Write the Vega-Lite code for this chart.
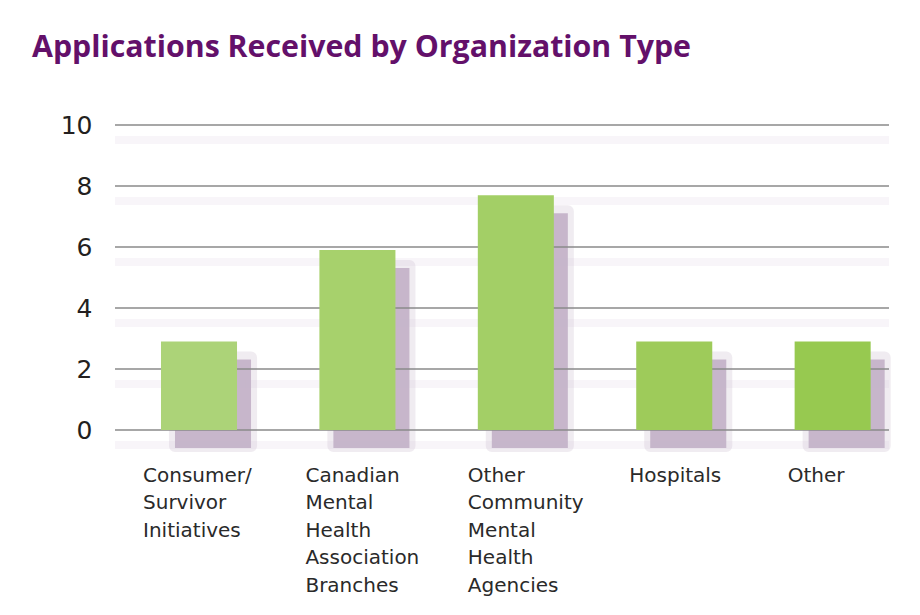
{
  "$schema": "https://vega.github.io/schema/vega-lite/v6.json",
  "width": 774,
  "height": 305,
  "autosize": "none",
  "padding": {"left": 115, "top": 125, "right": 31, "bottom": 185},
  "background": "white",
  "title": {
    "text": "Applications Received by Organization Type",
    "anchor": "start",
    "frame": "group",
    "dx": -83,
    "offset": 50,
    "font": "Open Sans",
    "fontSize": 30.3,
    "fontWeight": "bold",
    "color": "#63106a"
  },
  "config": {"view": {"stroke": null}},
  "datasets": {
    "apps": [
      {"type": "Consumer/ Survivor Initiatives", "count": 2.9},
      {"type": "Canadian Mental Health Association Branches", "count": 5.9},
      {"type": "Other Community Mental Health Agencies", "count": 7.7},
      {"type": "Hospitals", "count": 2.9},
      {"type": "Other", "count": 2.9}
    ],
    "grid": [{"v": 0}, {"v": 2}, {"v": 4}, {"v": 6}, {"v": 8}, {"v": 10}]
  },
  "layer": [
    {
      "data": {"name": "grid"},
      "mark": {"type": "rule", "color": "#f8f5f9", "strokeWidth": 8, "yOffset": 15},
      "encoding": {"y": {"field": "v", "type": "quantitative", "scale": {"domain": [0, 10]}}}
    },
    {
      "data": {"name": "apps"},
      "mark": {"type": "bar", "color": "#c6b6ca", "opacity": 0.25, "xOffset": 14, "yOffset": 16, "y2Offset": 16, "stroke": "#c6b6ca", "strokeWidth": 12, "strokeJoin": "round"},
      "encoding": {
        "x": {"field": "type", "type": "nominal", "sort": null},
        "y": {"field": "count", "type": "quantitative"}
      }
    },
    {
      "data": {"name": "apps"},
      "mark": {"type": "bar", "color": "#c2b0c6", "opacity": 0.9, "xOffset": 14, "yOffset": 18, "y2Offset": 14},
      "encoding": {
        "x": {"field": "type", "type": "nominal", "sort": null},
        "y": {"field": "count", "type": "quantitative"}
      }
    },
    {
      "data": {"name": "grid"},
      "mark": {"type": "rule", "color": "#8a8a8a", "strokeWidth": 1.6},
      "encoding": {"y": {"field": "v", "type": "quantitative"}}
    },
    {
      "data": {"name": "apps"},
      "mark": {"type": "bar"},
      "encoding": {
        "x": {
          "field": "type",
          "type": "nominal",
          "sort": null,
          "scale": {"paddingInner": 0.52, "paddingOuter": 0.203, "align": 0.715},
          "axis": {
            "title": null,
            "domain": false,
            "ticks": false,
            "labelAngle": 0,
            "labelAlign": "left",
            "labelBaseline": "top",
            "labelFont": "DejaVu Sans",
            "labelFontSize": 20,
            "labelColor": "#2a2a2a",
            "labelLineHeight": 27.5,
            "labelPadding": 35,
            "labelLimit": 200,
            "labelExpr": "split(datum.label, ' ')",
            "labelOffset": {
              "condition": [
                {"test": "datum.value == 'Consumer/ Survivor Initiatives'", "value": -56},
                {"test": "datum.value == 'Canadian Mental Health Association Branches'", "value": -52},
                {"test": "datum.value == 'Other Community Mental Health Agencies'", "value": -48}
              ],
              "value": -45
            }
          }
        },
        "y": {
          "field": "count",
          "type": "quantitative",
          "scale": {"domain": [0, 10]},
          "axis": {
            "title": null,
            "domain": false,
            "ticks": false,
            "grid": false,
            "values": [0, 2, 4, 6, 8, 10],
            "labelFont": "DejaVu Sans",
            "labelFontSize": 25,
            "labelColor": "#231f20",
            "labelPadding": 23
          }
        },
        "color": {
          "field": "type",
          "type": "nominal",
          "sort": null,
          "legend": null,
          "scale": {"range": ["#acd378", "#a7d16c", "#a3cf66", "#9ecb5a", "#97c950"]}
        }
      }
    }
  ]
}
